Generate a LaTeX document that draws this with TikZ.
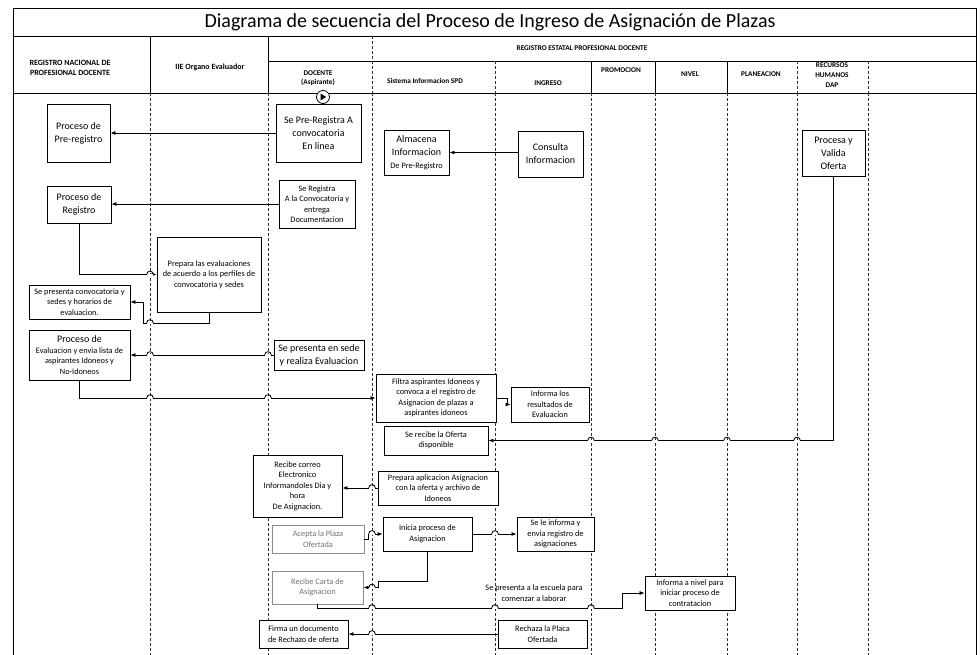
\documentclass[tikz,border=0pt]{standalone}
\usepackage{fontspec}
\setmainfont{Carlito}
\usetikzlibrary{arrows.meta,calc,backgrounds}
\begin{document}
\begin{tikzpicture}[x=1pt,y=-1pt,
  box/.style={draw,line width=0.9pt,fill=white,align=center,inner sep=1pt},
  big/.style={font=\fontsize{10}{13}\selectfont},
  sm/.style={font=\fontsize{8.3}{10.5}\selectfont},
  hdr/.style={font=\bfseries\fontsize{7.3}{9.5}\selectfont,align=center,inner sep=0pt},
  hdrl/.style={hdr,font=\bfseries\fontsize{8}{10}\selectfont},
  lane/.style={dash pattern=on 3pt off 2pt,line width=0.7pt,black!80},
  conn/.style={line width=0.8pt},
  arr/.style={conn,-{Latex[length=5pt,width=4pt]}},
  faint/.style={draw=black!45,text=black!55},
  frame/.style={line width=1pt}
]
\useasboundingbox (0,0) rectangle (980,654);

% ---------- title and header ----------
\node[font=\fontsize{20}{22}\selectfont] (title) at (490,22) {Diagrama de secuencia del Proceso de Ingreso de Asignación de Plazas};
\node[hdrl] (hRN) at (70,68) {REGISTRO NACIONAL DE\\PROFESIONAL DOCENTE};
\node[hdrl] (hIIE) at (210,67) {IIE Organo Evaluador};
\node[hdr] (hRE) at (582,48) {REGISTRO ESTATAL PROFESIONAL DOCENTE};
\node[hdr] (hDOC) at (318,78) {DOCENTE\\(Aspirante)};
\node[hdr] (hSIS) at (425,81) {Sistema Informacion SPD};
\node[hdr] (hING) at (548,83) {INGRESO};
\node[hdr] (hPRO) at (621,70) {PROMOCION};
\node[hdr] (hNIV) at (690,74) {NIVEL};
\node[hdr] (hPLA) at (761,74) {PLANEACION};
\node[hdr,font=\bfseries\fontsize{7.3}{10}\selectfont] (hRH) at (832,75) {RECURSOS\\HUMANOS\\DAP};

% ---------- boxes ----------
\node[box,big,minimum width=63pt,minimum height=58pt] (b1) at (78.5,133) {Proceso de\\Pre-registro};
\node[box,big,minimum width=85pt,minimum height=58pt] (b2) at (318.5,133) {Se Pre-Registra A\\convocatoria\\En linea};
\node[box,big,minimum width=64pt,minimum height=37pt] (b3) at (79,204.5) {Proceso de\\Registro};
\node[box,sm,minimum width=76pt,minimum height=48pt] (b4) at (317,204) {Se Registra\\A la Convocatoria y\\entrega\\Documentacion};
\node[box,big,minimum width=65pt,minimum height=45pt] (b5) at (416.5,152.5) {Almacena\\Informacion\\\fontsize{8.3}{10.5}\selectfont De Pre-Registro};
\node[box,big,minimum width=65pt,minimum height=46pt] (b6) at (550.5,154) {Consulta\\Informacion};
\node[box,big,minimum width=63pt,minimum height=46pt] (b7) at (833.5,153) {Procesa y\\Valida\\Oferta};
\node[box,sm,minimum width=104pt,minimum height=75pt] (b8) at (209,274.5) {Prepara las evaluaciones\\de acuerdo a los perfiles de\\convocatoria y sedes};
\node[box,sm,minimum width=101pt,minimum height=34pt] (b9) at (79.5,302) {Se presenta convocatoria y\\sedes y horarios de\\evaluacion.};
\node[box,sm,minimum width=101pt,minimum height=50pt] (b10) at (79.5,355) {\fontsize{10}{12}\selectfont Proceso de\\\fontsize{8.3}{10.5}\selectfont Evaluacion y envia lista de\\aspirantes Idoneos y\\No-Idoneos};
\node[box,big,minimum width=90pt,minimum height=30pt] (b11) at (319,355) {Se presenta en sede\\y realiza Evaluacion};
\node[box,sm,minimum width=120pt,minimum height=48pt] (b12) at (436,398) {Filtra aspirantes Idoneos y\\convoca  a el registro de\\Asignacion de plazas a\\aspirantes idoneos};
\node[box,sm,minimum width=78pt,minimum height=35pt] (b13) at (550,404.5) {Informa los\\resultados de\\Evaluacion};
\node[box,sm,minimum width=104pt,minimum height=29pt] (b14) at (436,440.5) {Se recibe la Oferta\\disponible};
\node[box,sm,minimum width=89pt,minimum height=62pt] (b15) at (297.5,486) {Recibe correo\\Electronico\\Informandoles Dia y\\hora\\De Asignacion.};
\node[box,sm,minimum width=120pt,minimum height=34pt] (b16) at (438,488) {Prepara aplicacion  Asignacion\\con la oferta y archivo de\\Idoneos};
\node[box,sm,faint,minimum width=92pt,minimum height=28pt] (b17) at (318,539) {Acepta la Plaza\\Ofertada};
\node[box,sm,minimum width=89pt,minimum height=34pt] (b18) at (427.5,534) {Inicia proceso de\\Asignacion};
\node[box,sm,minimum width=77pt,minimum height=34pt] (b19) at (555.5,534) {Se le informa y\\envia registro de\\asignaciones};
\node[box,sm,faint,minimum width=91pt,minimum height=33pt] (b20) at (317.5,587.5) {Recibe Carta de\\Asignacion};
\node[box,sm,minimum width=90pt,minimum height=34pt] (b21) at (690,593) {Informa a nivel para\\iniciar proceso de\\contratacion};
\node[box,sm,minimum width=89pt,minimum height=28pt] (b22) at (303.5,634) {Firma un documento\\de Rechazo de oferta};
\node[box,sm,minimum width=89pt,minimum height=28pt] (b23) at (542.5,634) {Rechaza la Placa\\Ofertada};
\node[sm,align=center,inner sep=0pt] (lbl) at (534,593) {Se presenta a la escuela para\\comenzar a laborar};

% ---------- frame, header lines and lanes (behind) ----------
\begin{scope}[on background layer]
  \draw[frame] (13,662) -- (13,8) -- (976,8) -- (976,662);
  \draw[frame] (13,36) -- (976,36);
  \draw[frame] (268,61) -- (976,61);
  \draw[frame] (13,93) -- (976,93);
  \foreach \x in {150,268} \draw[frame] (\x,36) -- (\x,93);
  \foreach \x in {591,655,727} \draw[frame] (\x,61) -- (\x,93);
  \draw[lane] (372,36) -- (372,93);
  \foreach \x in {495,797,868} \draw[lane] (\x,61) -- (\x,93);
  \foreach \x in {150,268,372,495,591,655,727,797,868} \draw[lane] (\x,93) -- (\x,662);
\end{scope}

% start marker
\node[circle,draw,line width=0.8pt,fill=white,minimum size=13pt,inner sep=0pt] (start) at (323,97) {};
\fill (start.center) ++(-2.3,-3.5) -- ++(5.5,3.5) -- ++(-5.5,3.5) -- cycle;

% ---------- connectors ----------
\coordinate (k1) at (143,323);
\coordinate (k2) at (378,581);
\coordinate (k3) at (622,608);
\draw[arr] (b2.west) -- (b1.east);
\draw[arr] (b4.west) -- (b4.west -| b3.east);
\draw[arr] (b6.west |- b5.east) -- (b5.east);
\draw[arr] (b7.south) |- (b14.east);
\draw[arr] (b3.south) |- (b8.west);
\draw[arr] (b8.south) |- (k1) |- (b9.east);
\draw[arr] (b11.west) -- (b10.east);
\draw[arr] (b10.south) |- (b12.west);
\draw[arr] (b12.east) -- ++(11,0) |- (b13.west);
\draw[arr] (b16.west) -- (b16.west -| b15.east);
\draw[arr] (b17.east) -- ++(4,0) |- (b18.west);
\draw[arr] (b18.east) -- (b19.west);
\draw[arr] (b18.south) |- (k2) |- (b20.east);
\draw[arr] (b20.south) |- (k3) |- (b21.west);
\draw[arr] (b23.west) -- (b22.east);

% ---------- line hops ----------
\foreach \x/\y in {797/440.5,727/440.5,655/440.5,591/440.5,
                   150/274.5,150/323,268/355,150/355,150/398,268/398,
                   372/488,372/534,495/534,372/587.5,
                   372/608,495/608,591/608,372/634}{
  \fill[white] (\x-3.3,\y-1) rectangle (\x+3.3,\y+1);
  \draw[conn] (\x-3.3,\y) .. controls (\x-3.3,\y-4.4) and (\x+3.3,\y-4.4) .. (\x+3.3,\y);
}
\end{tikzpicture}
\end{document}
